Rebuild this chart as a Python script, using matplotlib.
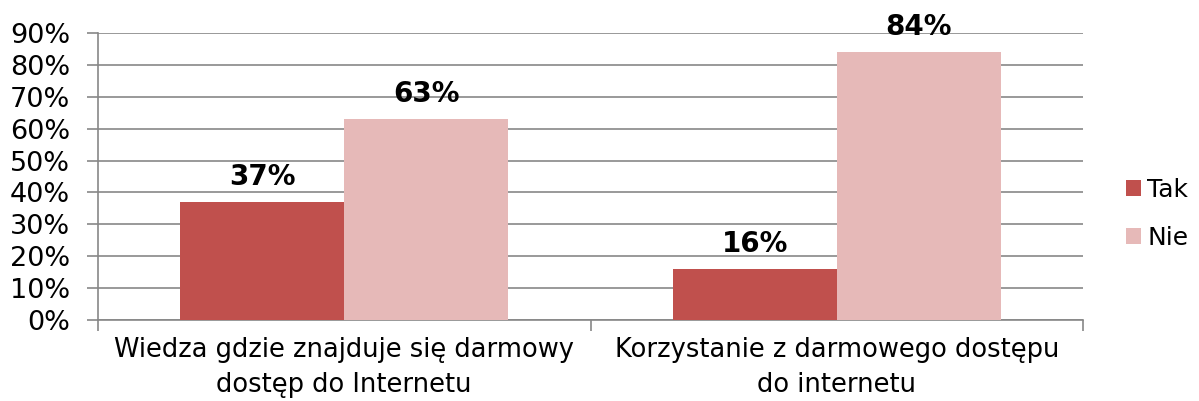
import matplotlib.pyplot as plt
import numpy as np

categories = ["Wiedza gdzie znajduje się darmowy\ndostęp do Internetu",
              "Korzystanie z darmowego dostępu\ndo internetu"]
tak = [37, 16]
nie = [63, 84]
series = ["Tak", "Nie"]
colors = ["#C0504D", "#E6B9B8"]

plt.rcParams["font.family"] = "DejaVu Sans"

fig = plt.figure(figsize=(11.99, 4.01), dpi=100)
ax = fig.add_axes([98 / 1199, 81 / 401, 985 / 1199, 287 / 401])

x = np.arange(len(categories))
w = 1 / 3
for vals, name, c, off in [(tak, series[0], colors[0], -w / 2), (nie, series[1], colors[1], w / 2)]:
    bars = ax.bar(x + off, vals, w, color=c, label=name, zorder=3)
    for b, v in zip(bars, vals):
        ax.annotate(f"{v}%", (b.get_x() + b.get_width() / 2, v), xytext=(0, 12),
                    textcoords="offset points", ha="center", va="baseline",
                    fontsize=20, fontweight="bold", zorder=4)

ax.set_xlim(-0.5, 1.5)
ax.set_ylim(0, 90)
ax.set_yticks(range(0, 91, 10))
ax.set_yticklabels([f"{t}%" for t in range(0, 91, 10)], fontsize=19.5)
ax.yaxis.grid(True, color="#878787", linewidth=1.2, zorder=0)
ax.set_xticks([-0.5, 0.5, 1.5])
ax.set_xticklabels([])
ax.set_xticks(x, minor=True)
ax.set_xticklabels(categories, minor=True, fontsize=18.5, linespacing=1.45)
ax.tick_params(axis="x", which="minor", length=0, pad=12)
ax.tick_params(axis="x", which="major", length=8, color="#878787", width=1.2)
ax.tick_params(axis="y", length=8, color="#878787", width=1.2, pad=12)
for s in ["top", "right"]:
    ax.spines[s].set_visible(False)
for s in ["left", "bottom"]:
    ax.spines[s].set_color("#878787")
    ax.spines[s].set_linewidth(1.2)

ax.legend(loc="center left", bbox_to_anchor=(1.0437, 0.37), frameon=False, fontsize=18,
          handlelength=0.6, handleheight=0.6, handletextpad=0.25, labelspacing=0.98,
          borderpad=0, borderaxespad=0)

fig.savefig("out.png", dpi=100)
